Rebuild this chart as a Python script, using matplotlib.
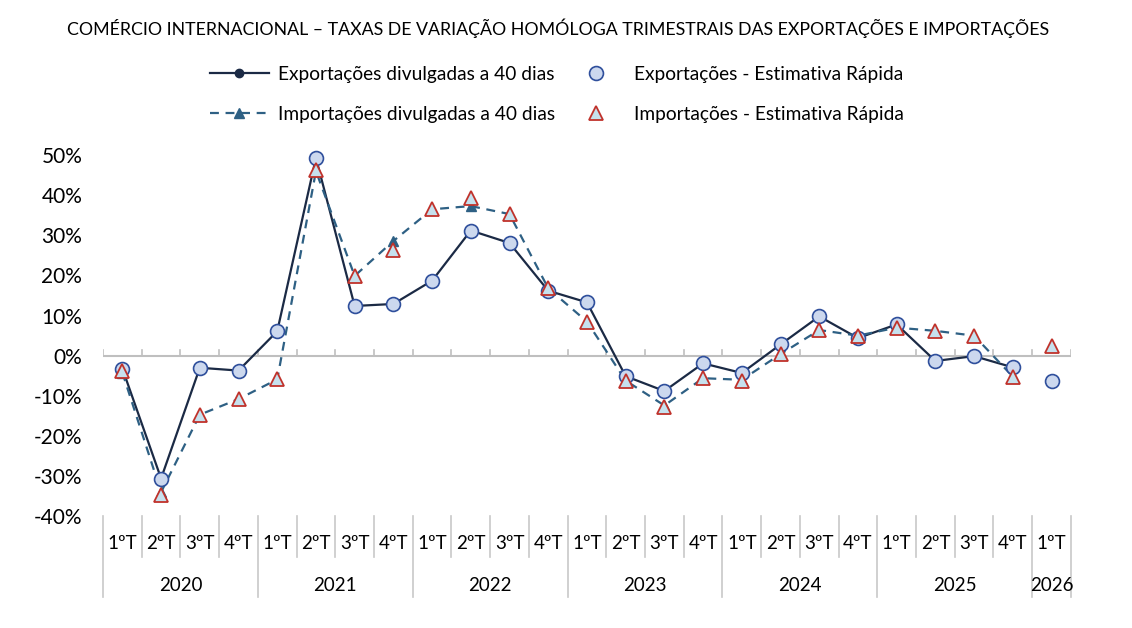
import matplotlib
matplotlib.use("Agg")
import matplotlib.pyplot as plt
from matplotlib.lines import Line2D
from matplotlib.ticker import FuncFormatter

plt.rcParams['font.family'] = ['Lato', 'DejaVu Sans']

quarters = ["1ºT", "2ºT", "3ºT", "4ºT"] * 6 + ["1ºT"]
years = ["2020", "2021", "2022", "2023", "2024", "2025", "2026"]
year_len = [4, 4, 4, 4, 4, 4, 1]

# taxas de variação homóloga (%)
exp_40d = [-3.2, -30.6, -3.0, -3.7, 6.1, 49.3, 12.4, 12.9,
           18.7, 31.2, 28.1, 16.2, 13.3, -5.1, -8.8, -1.9,
           -4.3, 2.8, 9.8, 4.4, 7.8, -1.3, -0.1, -2.9]
exp_est = [-3.2, -30.6, -3.0, -3.7, 6.1, 49.3, 12.4, 12.9,
           18.7, 31.2, 28.1, 16.2, 13.3, -5.1, -8.8, -1.9,
           -4.3, 2.8, 9.8, 4.4, 7.8, -1.3, -0.1, -2.9, -6.3]
imp_40d = [-4.2, -34.0, -14.7, -10.8, -5.9, 46.0, 19.9, 28.6,
           36.5, 37.3, 35.3, 16.8, 8.5, -6.2, -12.4, -5.6,
           -6.0, 0.4, 6.4, 5.0, 7.0, 6.2, 5.0, -5.2]
imp_est = [-3.7, -34.8, -14.7, -10.8, -5.9, 46.2, 19.9, 26.4,
           36.5, 39.3, 35.3, 16.8, 8.5, -6.2, -12.7, -5.6,
           -6.2, 0.4, 6.4, 5.0, 7.0, 6.2, 5.0, -5.2, 2.5]

grey = "#BFBFBF"
navy = "#1B2A45"
steel = "#2E6084"

fig = plt.figure(figsize=(11.32, 6.28), dpi=100)
ax = fig.add_axes([0.091, 0.178, 0.855, 0.575])

x40 = list(range(len(exp_40d)))
xest = list(range(len(exp_est)))

ax.plot(x40, exp_40d, color=navy, lw=1.6, marker='o', ms=6,
        mfc=navy, mec=navy, zorder=3, clip_on=False)
ax.plot(x40, imp_40d, color=steel, lw=1.6, ls=(0, (4, 3)), marker='^', ms=7,
        mfc=steel, mec=steel, zorder=3, clip_on=False)
ax.plot(xest, exp_est, ls='none', marker='o', ms=10, mfc="#CCD8EE",
        mec="#2F4F9C", mew=1.2, zorder=4, clip_on=False)
ax.plot(xest, imp_est, ls='none', marker='^', ms=10, mfc="#C6E1EE",
        mec="#C0322B", mew=1.3, zorder=5, clip_on=False)

n = len(quarters)
ax.set_xlim(-0.5, n - 0.5)
ax.set_ylim(-40, 50)
ax.set_yticks(range(-40, 51, 10))
ax.yaxis.set_major_formatter(FuncFormatter(lambda v, p: f"{v:.0f}%"))
ax.tick_params(axis='y', length=0, labelsize=15, pad=15)
ax.set_xticks([])
for s in ax.spines.values():
    s.set_visible(False)

# linha do zero com marcas
ax.axhline(0, color=grey, lw=1.5, zorder=1)
for b in range(n + 1):
    ax.plot([b - 0.5, b - 0.5], [0, 1.5], color=grey, lw=1.2, zorder=1)

# tabela de categorias
trans = ax.get_xaxis_transform()
bounds = [0]
for k in year_len:
    bounds.append(bounds[-1] + k)
for b in range(n + 1):
    long = b in bounds
    ax.plot([b - 0.5, b - 0.5], [0, -0.224 if long else -0.114],
            transform=trans, color="#C8C8C8", lw=1.2, clip_on=False)
for i, q in enumerate(quarters):
    ax.text(i, -0.075, q, transform=trans, ha='center', va='center',
            fontsize=13.5)
for j, yr in enumerate(years):
    c = (bounds[j] + bounds[j + 1] - 1) / 2
    ax.text(c, -0.191, yr, transform=trans, ha='center', va='center',
            fontsize=13.5)

fig.text(0.493, 0.955, "COMÉRCIO INTERNACIONAL – TAXAS DE VARIAÇÃO HOMÓLOGA "
         "TRIMESTRAIS DAS EXPORTAÇÕES E IMPORTAÇÕES",
         ha='center', va='center', fontsize=12.8)

handles = [
    Line2D([], [], color=navy, lw=1.6, marker='o', ms=6, mfc=navy, mec=navy),
    Line2D([], [], color=steel, lw=1.6, ls=(0, (4, 3)), marker='^', ms=7,
           mfc=steel, mec=steel),
    Line2D([], [], ls='none', marker='o', ms=10, mfc="#CCD8EE",
           mec="#2F4F9C", mew=1.2),
    Line2D([], [], ls='none', marker='^', ms=10, mfc="#C6E1EE",
           mec="#C0322B", mew=1.3),
]
labels = ["Exportações divulgadas a 40 dias",
          "Importações divulgadas a 40 dias",
          "Exportações - Estimativa Rápida",
          "Importações - Estimativa Rápida"]
fig.legend(handles, labels, ncol=2, loc='center', bbox_to_anchor=(0.492, 0.85),
           frameon=False, fontsize=13.8, handlelength=3.1, columnspacing=0.6,
           labelspacing=1.2, handletextpad=0.45)

fig.savefig("out.png", dpi=100)
